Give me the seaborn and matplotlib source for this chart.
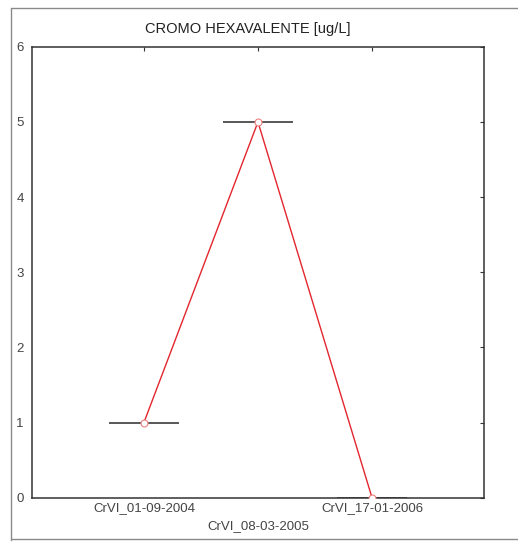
import matplotlib
matplotlib.use("Agg")
import matplotlib.pyplot as plt
import matplotlib.transforms as mtransforms
from matplotlib.lines import Line2D
import seaborn as sns
import pandas as pd

# Hexavalent chromium samples
samples = ["CrVI_01-09-2004", "CrVI_08-03-2005", "CrVI_17-01-2006"]
positions = [1, 2, 3]
values = [1, 5, 0]
yticks = [0, 1, 2, 3, 4, 5, 6]

df = pd.DataFrame({"pos": positions, "valor": values, "muestra": samples})

sns.set_style("white")
plt.rcParams["font.family"] = ["Liberation Sans", "DejaVu Sans"]

fig = plt.figure(figsize=(5.18, 5.44), dpi=100)
ax = fig.add_axes([0.062, 0.085, 0.872, 0.829])

# horizontal level bars at each sample
ax.hlines(df["valor"], df["pos"] - 0.31, df["pos"] + 0.31, color="#4a4a4a", lw=1.3, zorder=2)

sns.lineplot(data=df, x="pos", y="valor", ax=ax, color="#e3262e", lw=1.0,
             marker="o", markersize=5, markerfacecolor="white",
             markeredgecolor="#f08080", markeredgewidth=0.8, zorder=3)

ax.set_xlim(0.02, 3.98)
ax.set_ylim(0, 6)
ax.set_xticks(positions)
ax.set_xticklabels(samples)
ax.set_yticks(yticks)
ax.set_yticklabels([str(v) for v in yticks])
ax.set_xlabel("")
ax.set_ylabel("")
ax.tick_params(axis="both", direction="in", length=3, width=0.8, color="#333333",
               labelsize=9.5, labelcolor="#444444", top=True, right=True, pad=3)
ax.tick_params(axis="y", pad=6)

# stagger the middle sample label downward
mid = ax.get_xticklabels()[1]
mid.set_transform(mid.get_transform() + mtransforms.ScaledTranslation(0, -0.18, fig.dpi_scale_trans))

for s in ax.spines.values():
    s.set_color("#333333")
    s.set_linewidth(1.1)
    s.set_visible(True)

fig.text(0.478, 0.946, "CROMO HEXAVALENTE [ug/L]", ha="center", va="center",
         fontsize=10.5, color="#222222")

# outer frame around the figure
fc = "#8a8a8a"
fig.add_artist(Line2D([0.021, 0.021], [0.008, 0.985], color=fc, lw=1.0))
fig.add_artist(Line2D([0.021, 1.0], [0.985, 0.985], color=fc, lw=1.0))
fig.add_artist(Line2D([0.021, 1.0], [0.009, 0.009], color=fc, lw=1.0))

fig.savefig("out.png", dpi=100)
